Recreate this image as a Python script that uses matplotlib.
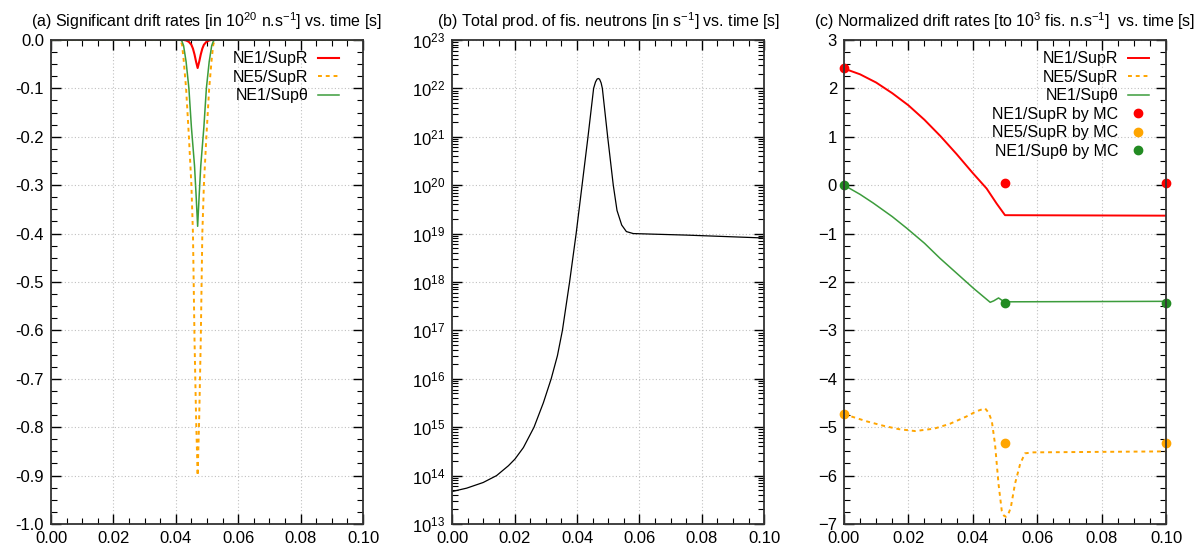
import matplotlib

matplotlib.use("Agg")
import matplotlib.pyplot as plt
from matplotlib.ticker import FormatStrFormatter, LogLocator, MultipleLocator, NullFormatter

# (a) significant drift rates [1e20 n/s]
t_a = [0.0, 0.040, 0.0415, 0.042, 0.0425, 0.0433, 0.0442, 0.045, 0.0455, 0.046, 0.0465, 0.047,
       0.0475, 0.048, 0.0485, 0.049, 0.0498, 0.0507, 0.0515, 0.052, 0.0525, 0.054, 0.1]
ne1_supr_a = [0.0, 0.0, 0.0, 0.0, 0.0, -0.001, -0.004, -0.010, -0.018, -0.030, -0.045, -0.058,
              -0.045, -0.030, -0.018, -0.010, -0.004, -0.001, 0.0, 0.0, 0.0, 0.0, 0.0]
ne5_supr_a = [0.0, 0.0, 0.0, -0.01, -0.04, -0.10, -0.20, -0.30, -0.40, -0.62, -0.78, -0.90,
              -0.78, -0.62, -0.40, -0.30, -0.20, -0.10, -0.04, -0.01, 0.0, 0.0, 0.0]
ne1_supth_a = [0.0, 0.0, 0.0, -0.003, -0.012, -0.045, -0.10, -0.18, -0.22, -0.26, -0.32, -0.385,
               -0.32, -0.26, -0.22, -0.18, -0.10, -0.045, -0.012, -0.003, 0.0, 0.0, 0.0]

# (b) total production of fission neutrons [1/s]
t_b = [0.0, 0.0046, 0.0099, 0.0142, 0.018, 0.0201, 0.0228, 0.0262, 0.0292, 0.0317, 0.0337,
       0.0353, 0.0376, 0.0397, 0.0416, 0.0435, 0.0453, 0.0459, 0.0464, 0.0468, 0.0472, 0.0477,
       0.0481, 0.0498, 0.0516, 0.0528, 0.0543, 0.0558, 0.058, 0.065, 0.075, 0.085, 0.1]
fis_neutrons = [4.7e13, 5.5e13, 7.2e13, 1.0e14, 1.6e14, 2.2e14, 3.8e14, 1.0e15, 3.2e15, 1.0e16,
                3.0e16, 1.0e17, 1.0e18, 1.0e19, 1.0e20, 1.0e21, 1.0e22, 1.35e22, 1.55e22, 1.6e22,
                1.55e22, 1.3e22, 1.0e22, 1.0e21, 1.0e20, 3.0e19, 1.5e19, 1.1e19, 1.0e19, 9.7e18,
                9.3e18, 8.8e18, 8.1e18]

# (c) normalized drift rates [per 1e3 fission n/s]
t_c_r = [0.0, 0.005, 0.010, 0.015, 0.020, 0.025, 0.030, 0.035, 0.040, 0.0443, 0.0474, 0.050, 0.1]
ne1_supr_c = [2.41, 2.29, 2.12, 1.90, 1.65, 1.35, 1.01, 0.64, 0.25, -0.07, -0.38, -0.62, -0.63]
t_c_g = [0.0, 0.005, 0.0091, 0.015, 0.0195, 0.025, 0.0298, 0.035, 0.0402, 0.0445, 0.0454,
         0.0465, 0.048, 0.0495, 0.050, 0.1]
ne1_supth_c = [0.0, -0.19, -0.37, -0.65, -0.89, -1.20, -1.51, -1.82, -2.13, -2.37, -2.42, -2.39,
               -2.33, -2.40, -2.41, -2.40]
t_c_o = [0.0, 0.0071, 0.0122, 0.017, 0.0221, 0.028, 0.0329, 0.038, 0.0412, 0.0438, 0.0449,
         0.0459, 0.0469, 0.048, 0.049, 0.0497, 0.0503, 0.051, 0.0518, 0.0531, 0.0547, 0.0562,
         0.0588, 0.1]
ne5_supr_c = [-4.73, -4.88, -4.97, -5.04, -5.08, -5.03, -4.93, -4.78, -4.67, -4.61, -4.70, -4.87,
              -5.35, -6.18, -6.73, -6.83, -6.85, -6.80, -6.66, -6.17, -5.76, -5.54, -5.52, -5.50]

t_mc = [0.0, 0.05, 0.1]
ne1_supr_mc = [2.42, 0.05, 0.05]
ne5_supr_mc = [-4.73, -5.32, -5.32]
ne1_supth_mc = [0.0, -2.43, -2.43]

RED = "#ff0000"
ORANGE = "#ffa500"
GREEN = "#3c9c3c"
GREEN_DOT = "#228b22"


def style_axes(ax):
    ax.set_xlim(0.0, 0.1)
    ax.xaxis.set_major_locator(MultipleLocator(0.02))
    ax.xaxis.set_minor_locator(MultipleLocator(0.005))
    ax.xaxis.set_major_formatter(FormatStrFormatter("%.2f"))
    ax.tick_params(which="both", direction="in", top=True, right=True, labelsize=12, pad=5)
    ax.tick_params(which="major", length=7, width=1.0)
    ax.tick_params(which="minor", length=4, width=0.8)
    ax.grid(True, which="major", linestyle=(0, (1, 2)), color="#c0c0c0", linewidth=0.8)
    for spine in ax.spines.values():
        spine.set_linewidth(1.3)
        spine.set_color("#333333")


def add_legend(ax, anchor_x, **extra):
    ax.legend(loc="upper right", bbox_to_anchor=(anchor_x, 1.0), frameon=False,
              markerfirst=False, fontsize=11.5, handlelength=1.3, handletextpad=0.6,
              labelspacing=0.22, borderaxespad=0.3, borderpad=0.4, **extra)


def main() -> int:
    plt.rcParams["font.family"] = ["Liberation Sans", "DejaVu Sans"]
    plt.rcParams["mathtext.fontset"] = "custom"
    plt.rcParams["mathtext.rm"] = "Liberation Sans"
    plt.rcParams["mathtext.it"] = "Liberation Sans:italic"
    plt.rcParams["mathtext.bf"] = "Liberation Sans:bold"

    fig = plt.figure(figsize=(12, 5.51), dpi=100)
    bottom, height = 0.049, 0.8785
    ax_a = fig.add_axes([0.0425, bottom, 0.26, height])
    ax_b = fig.add_axes([0.3769, bottom, 0.26, height])
    ax_c = fig.add_axes([0.7033, bottom, 0.2684, height])

    # (a)
    ax_a.plot(t_a, ne1_supr_a, color=RED, lw=1.5, label="NE1/SupR")
    ax_a.plot(t_a, ne5_supr_a, color=ORANGE, lw=1.4, ls=(0, (2, 2)), label="NE5/SupR")
    ax_a.plot(t_a, ne1_supth_a, color=GREEN, lw=1.1, label="NE1/Supθ")
    style_axes(ax_a)
    ax_a.set_ylim(-1.0, 0.0)
    ax_a.yaxis.set_major_locator(MultipleLocator(0.1))
    ax_a.yaxis.set_minor_locator(MultipleLocator(0.025))
    ax_a.yaxis.set_major_formatter(FormatStrFormatter("%.1f"))
    add_legend(ax_a, 0.958)
    ax_a.set_title(r"(a) Significant drift rates [in 10$^{20}$ n.s$^{-1}$] vs. time [s]",
                   fontsize=11.5, pad=9)

    # (b)
    ax_b.plot(t_b, fis_neutrons, color="black", lw=0.9)
    ax_b.set_yscale("log")
    style_axes(ax_b)
    ax_b.set_ylim(1e13, 1e23)
    ax_b.yaxis.set_major_locator(LogLocator(base=10, numticks=15))
    ax_b.yaxis.set_minor_locator(LogLocator(base=10, subs=range(2, 10), numticks=15))
    ax_b.yaxis.set_minor_formatter(NullFormatter())
    for label in ax_b.get_yticklabels():
        label.set_verticalalignment("center_baseline")
    ax_b.set_title(r"(b) Total prod. of fis. neutrons [in s$^{-1}$] vs. time [s]",
                   fontsize=11.5, pad=9)

    # (c)
    ax_c.plot(t_c_r, ne1_supr_c, color=RED, lw=1.4, label="NE1/SupR")
    ax_c.plot(t_c_o, ne5_supr_c, color=ORANGE, lw=1.4, ls=(0, (2, 2)), label="NE5/SupR")
    ax_c.plot(t_c_g, ne1_supth_c, color=GREEN, lw=1.1, label="NE1/Supθ")
    ax_c.plot(t_mc, ne1_supr_mc, "o", color=RED, ms=6, clip_on=False, label="NE1/SupR by MC")
    ax_c.plot(t_mc, ne5_supr_mc, "o", color=ORANGE, ms=6, clip_on=False, label="NE5/SupR by MC")
    ax_c.plot(t_mc, ne1_supth_mc, "o", color=GREEN_DOT, ms=6, clip_on=False,
              label="NE1/Supθ by MC")
    style_axes(ax_c)
    ax_c.set_ylim(-7, 3)
    ax_c.yaxis.set_major_locator(MultipleLocator(1))
    ax_c.yaxis.set_minor_locator(MultipleLocator(0.25))
    add_legend(ax_c, 0.981, numpoints=1)
    ax_c.set_title(r"(c) Normalized drift rates [to 10$^{3}$ fis. n.s$^{-1}$]  vs. time [s]",
                   fontsize=11.5, pad=9)

    fig.savefig("out.png", dpi=100)
    plt.close(fig)
    return 0


if __name__ == "__main__":
    raise SystemExit(main())
